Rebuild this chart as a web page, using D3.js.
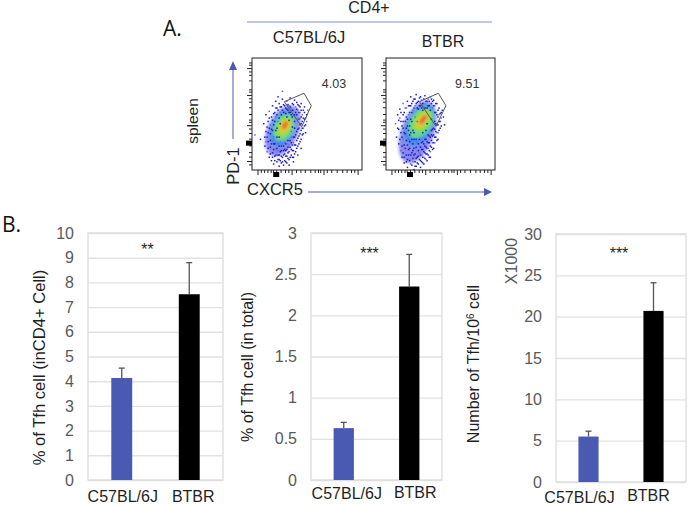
<!DOCTYPE html>
<html><head><meta charset="utf-8">
<script src="https://cdn.jsdelivr.net/npm/d3@7"></script>
<style>html,body{margin:0;background:#fff}svg{display:block}text{font-family:"Liberation Sans",Arial,sans-serif}</style>
</head><body><svg id="c" width="688" height="505"></svg>
<script>
// ---- bar chart data
const groups = ["C57BL/6J", "BTBR"];
const tfhInCd4 = [4.13, 7.52];
const tfhInCd4Top = [4.53, 8.8];
const tfhInTotal = [0.63, 2.35];
const tfhInTotalTop = [0.70, 2.74];
const tfhNumber = [5.5, 20.7];
const tfhNumberTop = [6.15, 24.1];
const ticksA = [0,1,2,3,4,5,6,7,8,9,10];
const ticksB = [0,0.5,1,1.5,2,2.5,3];
const ticksC = [0,5,10,15,20,25,30];
const barColors = ["#4a5ab3", "#000000"];

// ---- flow cytometry data (plot units 0-100)
const flowValues = ["4.03", "9.51"];
const gate1 = [[29.4,61],[47.3,68.5],[53.9,57.4],[45.2,38.7]];
const gate2 = [[30.6,61],[48,68.5],[55,57.4],[45.9,39]];
const majorY = [91,67,40,8];
const minorY = [96,94,88,85,80,72,70,64,61,56,50,45,43,37,33,28,22,16,12,5];
const majorX = [5,22,36,65,96];
const minorX = [8,11,14,17,19,26,30,33,40,44,48,53,57,60,62,68,72,77,82,86,90,93];
// contour levels: cx, cy, rx, ry, tilt, colour, opacity
const density1 = [
 [28,35,14,24,24,"#2a2ad8",0.55],[28,37,10.5,17,24,"#3f8ee0",0.85],
 [29,38,9,13,26,"#62d88a",1],[29,38,6.5,10,28,"#8fdc4a",1],[30,39,4,7,28,"#e6c838",1],[30,40,2,4,28,"#e8602a",1]];
const density2 = [
 [29,34,15,29,20,"#2a2ad8",0.55],[31,40,12,20,28,"#3f8ee0",0.85],
 [32,42,10,15,34,"#62d88a",1],[33,44,7.5,11,36,"#8fdc4a",1],[33,44,4,8,36,"#e6c838",1],[34,45,2,5,36,"#e8602a",1]];
const cells1 = [[2,32],[7,28],[10,42],[11,22],[12,35],[12,50],[13,17],[13,30],[14,26],[14,44],[15,12],[15,38],[15,53],[16,21],[16,33],[17,48],[17,9],[18,16],[18,27],[18,58],[19,41],[19,6],[20,13],[20,52],[21,19],[21,62],[22,8],[22,30],[22,56],[23,14],[23,24],[23,66],[24,4],[24,10],[24,60],[25,17],[25,52],[26,7],[26,22],[26,57],[27,12],[27,64],[27,71],[28,5],[28,18],[28,59],[29,9],[29,15],[29,52],[30,13],[30,24],[30,56],[31,7],[31,19],[31,62],[32,11],[32,27],[32,54],[33,5],[33,17],[33,58],[34,21],[34,52],[34,65],[35,14],[35,25],[35,56],[36,18],[36,48],[36,60],[37,12],[37,30],[37,54],[38,23],[38,44],[38,63],[39,17],[39,32],[39,57],[40,27],[40,50],[40,61],[41,22],[41,37],[41,54],[42,31],[42,46],[42,58],[43,26],[43,41],[43,52],[44,36],[44,48],[44,60],[45,32],[45,44],[46,38],[46,54],[47,46],[47,57],[48,41],[49,50],[50,54],[37,8],[44,20],[41,14],[48,34],[21,36],[23,44],[18,36],[16,27],[19,24],[25,42],[24,30],[35,35],[33,45],[36,39],[31,48],[38,38],
 [11,30],[12,26],[13,39],[14,20],[14,34],[15,47],[16,15],[16,41],[17,24],[17,37],[18,12],[18,45],[19,19],[19,30],[19,51],[20,9],[20,24],[20,44],[21,14],[21,48],[21,56],[22,20],[22,38],[22,50],[23,10],[23,18],[23,54],[24,14],[24,22],[24,47],[25,9],[25,26],[25,57],[26,13],[26,18],[26,50],[27,8],[27,24],[27,54],[28,14],[28,22],[28,52],[29,19],[29,25],[29,58],[30,8],[30,18],[30,51],[31,13],[31,24],[31,55],[32,16],[32,21],[32,59],[33,10],[33,23],[33,52],[34,12],[34,27],[34,57],[35,19],[35,30],[35,50],[36,23],[36,12],[36,54],[37,18],[37,25],[37,59],[38,15],[38,30],[38,50],[39,23],[39,44],[39,52],[40,20],[40,35],[40,55],[41,29],[41,46],[41,59],[42,24],[42,38],[42,52],[43,33],[43,47],[43,57],[44,28],[44,42],[44,54],[45,38],[45,50],[46,33],[46,47],[47,40],[47,52],[48,47],[49,44]];
const cells2 = [[8,42],[9,30],[10,50],[11,24],[11,37],[12,55],[13,18],[13,44],[14,30],[14,12],[15,38],[15,50],[15,60],[16,23],[16,7],[17,44],[17,33],[18,14],[18,56],[18,27],[19,3],[19,40],[19,62],[20,19],[20,50],[21,9],[21,32],[21,58],[22,14],[22,66],[22,25],[23,5],[23,44],[23,60],[24,18],[24,11],[24,54],[25,1],[25,28],[25,64],[26,8],[26,15],[26,58],[27,21],[27,68],[27,4],[28,12],[28,61],[28,25],[29,6],[29,18],[29,55],[30,10],[30,65],[30,22],[31,14],[31,3],[31,58],[32,8],[32,19],[32,63],[33,12],[33,26],[33,54],[34,6],[34,17],[34,60],[35,11],[35,22],[35,67],[36,15],[36,28],[36,56],[37,9],[37,20],[37,62],[38,14],[38,25],[38,64],[39,18],[39,31],[39,58],[40,22],[40,12],[40,66],[41,27],[41,36],[41,60],[42,19],[42,31],[42,56],[43,25],[43,38],[43,63],[44,30],[44,44],[44,58],[45,35],[45,52],[46,27],[46,41],[46,60],[47,34],[47,48],[48,44],[48,56],[49,38],[49,51],[50,47],[51,54],[53,41],[20,36],[22,46],[24,36],[26,48],[18,48],[21,26],[25,20],[33,34],[37,42],[28,44],[41,46],[36,36],
 [10,38],[11,45],[12,28],[12,47],[13,34],[13,52],[14,22],[14,40],[15,16],[15,28],[15,44],[16,34],[16,52],[16,12],[17,20],[17,56],[18,8],[18,38],[19,23],[19,46],[19,10],[20,28],[20,58],[20,14],[21,40],[21,20],[21,52],[22,6],[22,34],[22,58],[23,16],[23,28],[23,52],[24,8],[24,24],[24,62],[25,14],[25,34],[25,56],[26,20],[26,4],[26,64],[27,11],[27,28],[27,60],[28,18],[28,7],[28,56],[29,13],[29,24],[29,62],[30,16],[30,28],[30,58],[31,9],[31,21],[31,66],[32,14],[32,25],[32,56],[33,7],[33,19],[33,60],[34,12],[34,24],[34,64],[35,16],[35,28],[35,56],[36,10],[36,21],[36,62],[37,15],[37,26],[37,56],[38,20],[38,32],[38,58],[39,12],[39,25],[39,62],[40,17],[40,30],[40,54],[41,21],[41,32],[41,64],[42,25],[42,37],[42,62],[43,20],[43,32],[43,58],[44,25],[44,37],[44,52],[45,30],[45,42],[45,60],[46,34],[46,50],[47,28],[47,41],[47,54],[48,36],[48,50],[49,44],[50,40],[50,52],[52,48]];

const svg = d3.select("#c");
const blur = svg.append("defs").append("filter").attr("id","soft").attr("x","-30%").attr("y","-30%").attr("width","160%").attr("height","160%");
blur.append("feGaussianBlur").attr("stdDeviation",1.5);
const ink = "#1f1f1f", blue = "#4a5ab3";

function txt(x,y,s,size,opt={}){
  const t = svg.append("text").attr("x",x).attr("y",y).attr("font-size",size)
    .attr("fill",opt.fill||ink).attr("text-anchor",opt.anchor||"middle").text(s);
  if(opt.rot) t.attr("transform",`rotate(${opt.rot} ${x} ${y})`);
  if(opt.family) t.style("font-family",opt.family);
  return t;
}

function bars(box, values, tops, ticks, maxV, fmt, stars, starY){
  const x = d3.scaleBand().domain(groups).range([box.l,box.r]).paddingInner(0.69).paddingOuter(0.345);
  const y = d3.scaleLinear().domain([0,maxV]).range([box.b,box.t]);
  const w = box.r-box.l;
  const grid = svg.append("g").attr("transform",`translate(${box.l},0)`)
    .call(d3.axisLeft(y).tickValues(ticks).tickSize(-w).tickPadding(14).tickFormat(fmt));
  grid.select(".domain").remove();
  grid.selectAll("line").attr("stroke","#e2e2e2").attr("stroke-width",1.4);
  grid.selectAll("text").attr("fill","#595959").attr("font-size",16)
    .style("font-family",'"Liberation Sans",Arial,sans-serif');
  svg.append("rect").attr("x",box.l).attr("y",box.t).attr("width",w).attr("height",box.b-box.t)
    .attr("fill","none").attr("stroke","#dcdcdc").attr("stroke-width",1.3);
  const g = svg.append("g");
  g.selectAll("line").data(groups).join("line")
    .attr("x1",d=>x(d)+x.bandwidth()/2).attr("x2",d=>x(d)+x.bandwidth()/2)
    .attr("y1",(d,i)=>y(values[i])).attr("y2",(d,i)=>y(tops[i]))
    .attr("stroke","#555").attr("stroke-width",1.3);
  g.selectAll(".cap").data(groups).join("line").attr("class","cap")
    .attr("x1",d=>x(d)+x.bandwidth()/2-3).attr("x2",d=>x(d)+x.bandwidth()/2+3)
    .attr("y1",(d,i)=>y(tops[i])).attr("y2",(d,i)=>y(tops[i]))
    .attr("stroke","#555").attr("stroke-width",1.3);
  g.selectAll("rect").data(groups).join("rect")
    .attr("x",d=>x(d)).attr("width",x.bandwidth())
    .attr("y",(d,i)=>y(values[i])).attr("height",(d,i)=>box.b-y(values[i]))
    .attr("fill",(d,i)=>barColors[i]);
  groups.forEach((d,i)=>{
    const cx = x(d)+x.bandwidth()/2 + (i===0?box.lx0:box.lx1);
    txt(cx,box.b+(i===0?box.ly0:box.ly1),d,16);
  });
  txt((box.l+box.r)/2+box.sx,starY,stars,16);
}

bars({l:88,r:223,t:233,b:480,ly0:21.5,ly1:21.5,lx0:1,lx1:4,sx:-8},tfhInCd4,tfhInCd4Top,ticksA,10,d3.format("d"),"**",255);
bars({l:311,r:442,t:233,b:480,ly0:18.5,ly1:18,lx0:3,lx1:6,sx:-7},tfhInTotal,tfhInTotalTop,ticksB,3,d=>String(d),"***",259);
bars({l:556,r:686,t:234,b:482,ly0:20.5,ly1:19,lx0:-9,lx1:-5,sx:-2},tfhNumber,tfhNumberTop,ticksC,30,d3.format("d"),"***",259);

txt(45,367.5,"% of Tfh cell (inCD4+ Cell)",16.6,{rot:-90});
txt(253,367,"% of Tfh cell (in total)",16,{rot:-90});
const t3 = txt(479,364,"Number of Tfh/10",16,{rot:-90});
t3.append("tspan").attr("dy",-5).attr("font-size",10).text("6");
t3.append("tspan").attr("dy",5).text(" cell");
txt(517,261,"X1000",16,{rot:-90,fill:"#595959"});

// ---- panel letters and headings
txt(163,36,"A.",21,{anchor:"start",family:'"Open Sans",sans-serif',fill:"#111"});
txt(2,232,"B.",21,{anchor:"start",family:'"Open Sans",sans-serif',fill:"#111"});
txt(369,13,"CD4+",16);
svg.append("line").attr("x1",247).attr("x2",492).attr("y1",22).attr("y2",22).attr("stroke","#7f90d8").attr("stroke-width",1);
txt(309,43,groups[0],16.5);
txt(443,47,groups[1],16);
txt(198,121,"spleen",15.5,{rot:-90});
txt(239,166,"PD-1",16.5,{rot:-90});
txt(275,195,"CXCR5",16.5);

// arrows
svg.append("line").attr("x1",233).attr("x2",233).attr("y1",139).attr("y2",68).attr("stroke",blue).attr("stroke-width",1);
svg.append("path").attr("d",d3.line()([[229,70],[233,61],[237,70]])+"Z").attr("fill",blue);
svg.append("line").attr("x1",308).attr("x2",486).attr("y1",192).attr("y2",192).attr("stroke",blue).attr("stroke-width",1);
svg.append("path").attr("d",d3.line()([[484,188],[492,192],[484,196]])+"Z").attr("fill",blue);

function flow(l,r,density,cells,gate,label){
  const t=58,b=170;
  const x=d3.scaleLinear().domain([0,100]).range([l,r]);
  const y=d3.scaleLinear().domain([0,100]).range([b,t]);
  const sx=(r-l)/100, sy=(b-t)/100;
  const d=svg.append("g").attr("filter","url(#soft)");
  d.selectAll("ellipse").data(density).join("ellipse")
    .attr("cx",e=>x(e[0])).attr("cy",e=>y(e[1])).attr("rx",e=>e[2]*sx).attr("ry",e=>e[3]*sy)
    .attr("transform",e=>`rotate(${e[4]} ${x(e[0])} ${y(e[1])})`)
    .attr("fill",e=>e[5]).attr("opacity",e=>e[6]);
  svg.append("g").selectAll("rect").data(cells).join("rect")
    .attr("x",c=>x(c[0])).attr("y",c=>y(c[1])).attr("width",1.5).attr("height",1.5)
    .attr("fill",(c,i)=>i%6===0?"#5a6af0":"#1c1cd0");
  svg.append("path").attr("d",d3.line().x(p=>x(p[0])).y(p=>y(p[1]))(gate)+"Z")
    .attr("fill","none").attr("stroke","#555").attr("stroke-width",1);
  svg.append("rect").attr("x",l).attr("y",t).attr("width",r-l).attr("height",b-t)
    .attr("fill","none").attr("stroke","#222").attr("stroke-width",1);
  const axes=[[d3.axisLeft(y),majorY,minorY,`translate(${l},0)`],[d3.axisBottom(x),majorX,minorX,`translate(0,${b})`]];
  axes.forEach(([ax,maj,min,tr])=>{
    [[maj,5],[min,3]].forEach(([vals,len])=>{
      const g=svg.append("g").attr("transform",tr).call(ax.tickValues(vals).tickSize(len).tickFormat(""));
      g.select(".domain").remove();
      g.selectAll("line").attr("stroke","#222").attr("stroke-width",1);
    });
  });
  svg.append("rect").attr("x",x(22)-3).attr("y",b+2).attr("width",6).attr("height",5).attr("fill","#000");
  svg.append("rect").attr("x",l-6).attr("y",y(24)-2.5).attr("width",6).attr("height",5).attr("fill","#000");
  txt(x(74.5),88,label,12.5,{fill:"#333"});
}
flow(252,362,density1,cells1,gate1,flowValues[0]);
flow(386,495,density2,cells2,gate2,flowValues[1]);
</script></body></html>
